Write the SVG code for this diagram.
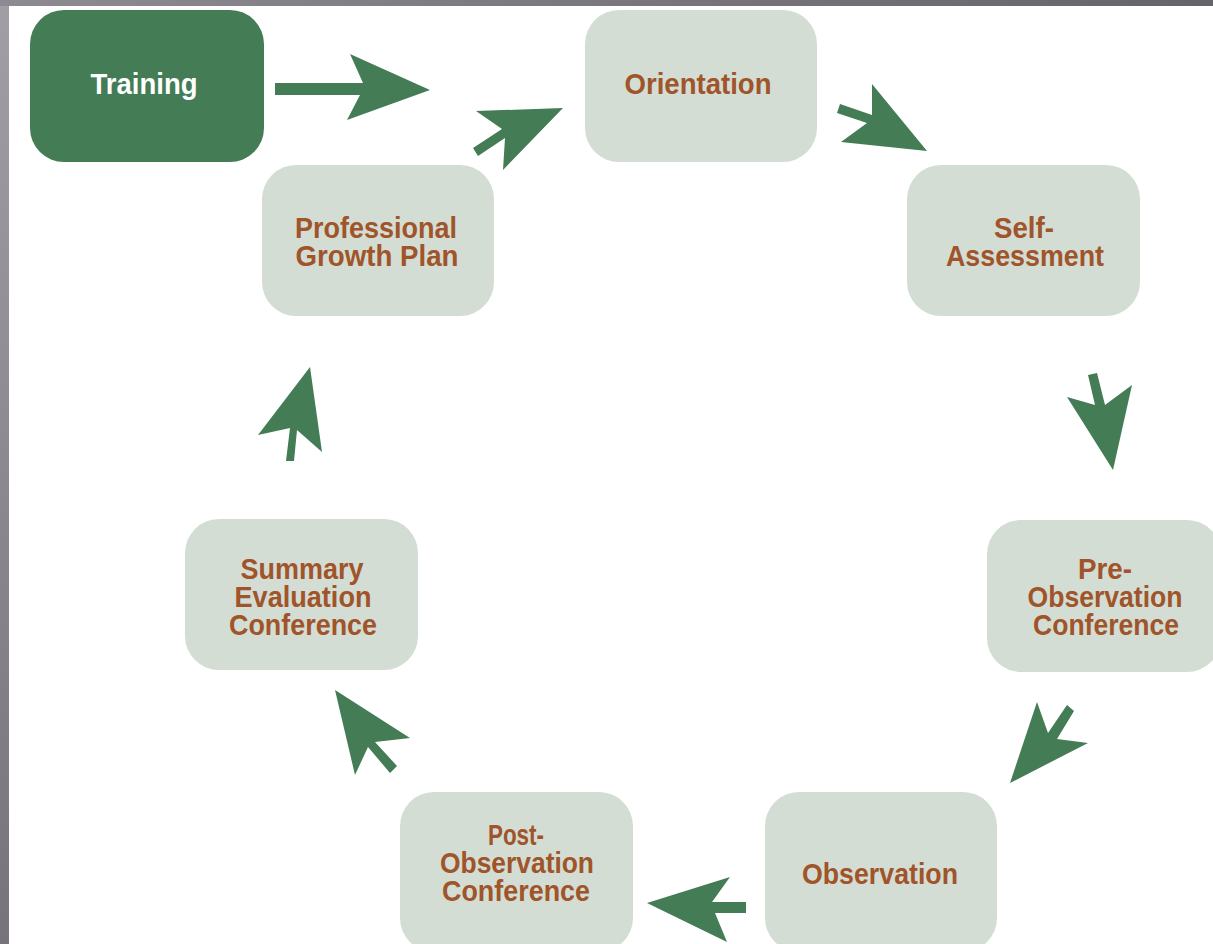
<svg xmlns="http://www.w3.org/2000/svg" width="1213" height="944" viewBox="0 0 1213 944">
<defs>
<linearGradient id="lg" x1="0" y1="0" x2="0" y2="1">
<stop offset="0" stop-color="#a29ea6"/><stop offset="1" stop-color="#77737a"/>
</linearGradient>
<linearGradient id="tg" x1="0" y1="0" x2="1" y2="0">
<stop offset="0" stop-color="#8e8a92"/><stop offset="1" stop-color="#67636a"/>
</linearGradient>
</defs>
<style>
.box{fill:#d3ddd4}
.dark{fill:#437c55}
.t{font-family:"Liberation Sans",Arial,sans-serif;font-weight:bold;font-size:30px;fill:#a0542a;text-anchor:middle}
.w{fill:#ffffff}
.arr{fill:#437c55}
</style>
<rect x="0" y="0" width="1213" height="944" fill="#ffffff"/>
<rect x="0" y="0" width="9" height="944" fill="url(#lg)"/>
<rect x="0" y="0" width="1213" height="6" fill="url(#tg)"/>

<g id="training">
<rect class="dark" x="30" y="10" width="234" height="152" rx="34"/>
<text class="t w" x="144" y="94" textLength="107" lengthAdjust="spacingAndGlyphs">Training</text>
</g>
<g id="orientation">
<rect class="box" x="585" y="10" width="232" height="152" rx="34"/>
<text class="t" x="698" y="94" textLength="147" lengthAdjust="spacingAndGlyphs">Orientation</text>
</g>
<g id="self-assessment">
<rect class="box" x="907" y="165" width="233" height="151" rx="34"/>
<text class="t" x="1024" y="238" textLength="60" lengthAdjust="spacingAndGlyphs">Self-</text>
<text class="t" x="1025" y="266" textLength="158" lengthAdjust="spacingAndGlyphs">Assessment</text>
</g>
<g id="pre-observation">
<rect class="box" x="987" y="520" width="234" height="152" rx="34"/>
<text class="t" x="1105" y="579" textLength="54" lengthAdjust="spacingAndGlyphs">Pre-</text>
<text class="t" x="1105" y="607" textLength="155" lengthAdjust="spacingAndGlyphs">Observation</text>
<text class="t" x="1106" y="635" textLength="146" lengthAdjust="spacingAndGlyphs">Conference</text>
</g>
<g id="observation">
<rect class="box" x="765" y="792" width="232" height="160" rx="34"/>
<text class="t" x="880" y="884" textLength="156" lengthAdjust="spacingAndGlyphs">Observation</text>
</g>
<g id="post-observation">
<rect class="box" x="400" y="792" width="233" height="160" rx="34"/>
<text class="t" x="516" y="845" textLength="56" lengthAdjust="spacingAndGlyphs">Post-</text>
<text class="t" x="517" y="873" textLength="154" lengthAdjust="spacingAndGlyphs">Observation</text>
<text class="t" x="516" y="901" textLength="148" lengthAdjust="spacingAndGlyphs">Conference</text>
</g>
<g id="summary-evaluation">
<rect class="box" x="185" y="519" width="233" height="151" rx="34"/>
<text class="t" x="302" y="579" textLength="123" lengthAdjust="spacingAndGlyphs">Summary</text>
<text class="t" x="303" y="607" textLength="137" lengthAdjust="spacingAndGlyphs">Evaluation</text>
<text class="t" x="303" y="635" textLength="148" lengthAdjust="spacingAndGlyphs">Conference</text>
</g>
<g id="professional-growth">
<rect class="box" x="262" y="165" width="232" height="151" rx="34"/>
<text class="t" x="376" y="238" textLength="162" lengthAdjust="spacingAndGlyphs">Professional</text>
<text class="t" x="377" y="266" textLength="163" lengthAdjust="spacingAndGlyphs">Growth Plan</text>
</g>

<g id="connectors">
<polygon class="arr" points="275,83 363,83 350,54 430,90 347,120 360,95 275,95"/>
<polygon class="arr" points="476,111 563,108 503,170 505,138 478,156 473,148 502,129"/>
<polygon class="arr" points="872,84 927,151 841,142 867,123 837,113 840,104 872,115"/>
<polygon class="arr" points="1088,375 1097,373 1105,405 1132,385 1113,470 1067,397 1095,405"/>
<polygon class="arr" points="1067,705 1074,711 1057,739 1088,743 1010,783 1037,702 1048,733"/>
<polygon class="arr" points="647,903 730,877 712,902 746,902 746,913 715,913 727,942"/>
<polygon class="arr" points="335,690 410,738 375,742 397,766 390,773 368,747 355,775"/>
<polygon class="arr" points="310,367 322,452 297,430 294,461 286,461 290,428 258,435"/>
</g>
</svg>
